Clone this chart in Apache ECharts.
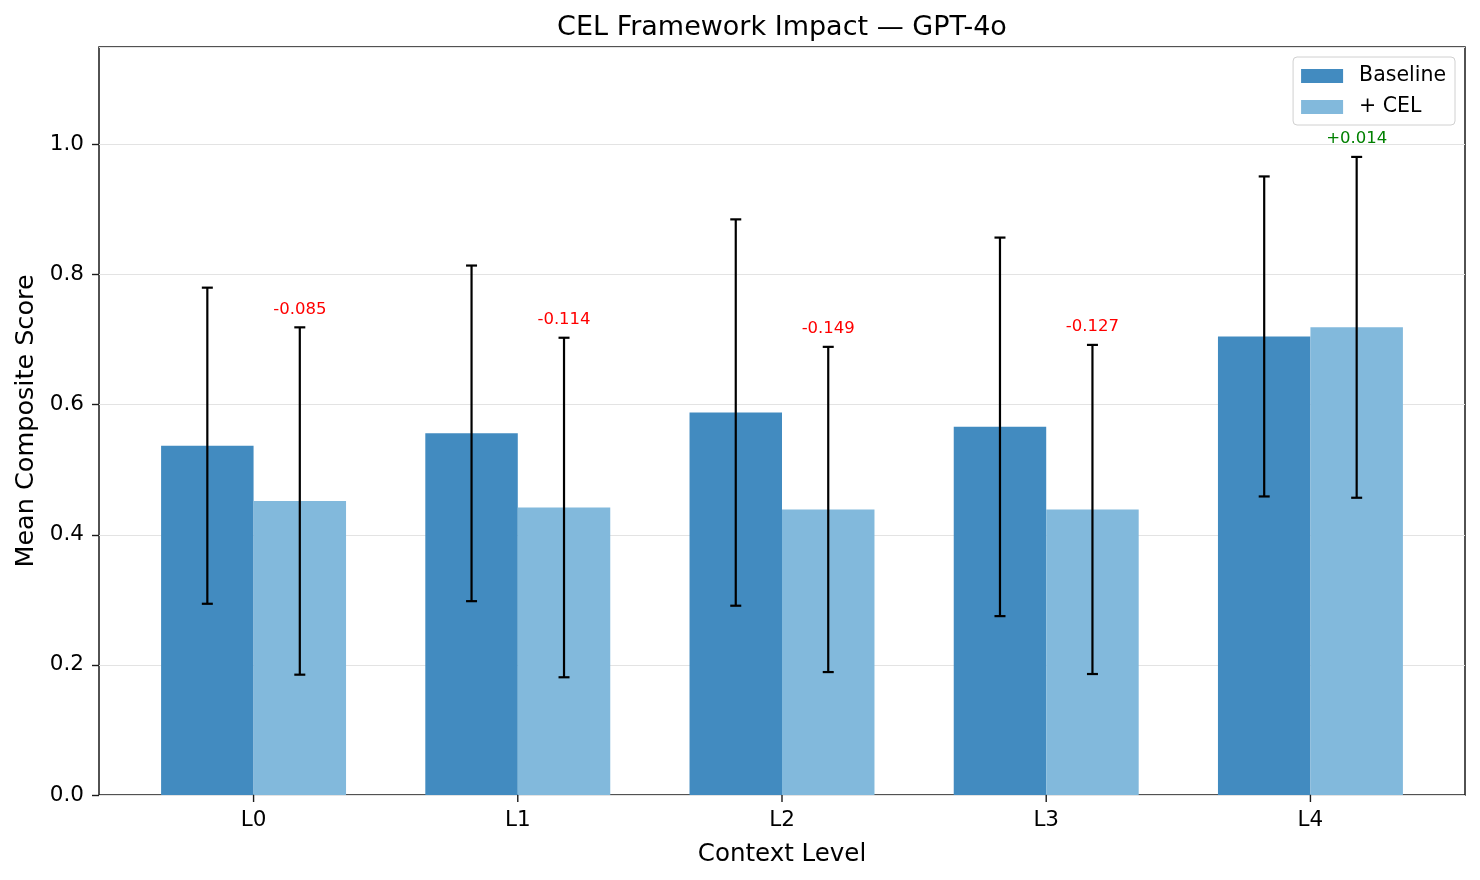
<!DOCTYPE html>
<html>
<head>
<meta charset="UTF-8">
<title>CEL Framework Impact</title>
<script src="https://cdn.jsdelivr.net/npm/echarts@6/dist/echarts.min.js"></script>
<style>
  html, body { margin: 0; padding: 0; background: #fff; }
  #chart { width: 1480px; height: 880px; }
</style>
</head>
<body>
<div id="chart"></div>
<script type="text/javascript">
    // data
    var categories = ['L0', 'L1', 'L2', 'L3', 'L4'];
    var baselineMean = [0.537, 0.556, 0.588, 0.566, 0.705];
    var baselineStd = [0.243, 0.258, 0.297, 0.291, 0.246];
    var celMean = [0.452, 0.442, 0.439, 0.439, 0.719];
    var celStd = [0.267, 0.261, 0.250, 0.253, 0.262];
    var yTicks = [0, 0.2, 0.4, 0.6, 0.8, 1.0];

    var BAR_W = 0.35;
    var baseColor = '#428bc0';
    var celColor = '#82b9dc';
    var font = 'DejaVu Sans';

    var myChart = echarts.init(document.getElementById('chart'));

    // one bar per level, shifted left (baseline) or right (cel)
    function barItem(side) {
        return function (params, api) {
            var x = api.value(0);
            var v = api.value(1);
            var x0 = side < 0 ? x - BAR_W : x;
            var p0 = api.coord([x0, v]);
            var p1 = api.coord([x0 + BAR_W, 0]);
            return {
                type: 'rect',
                shape: { x: p0[0], y: p0[1], width: p1[0] - p0[0], height: p1[1] - p0[1] },
                style: { fill: api.visual('color') }
            };
        };
    }

    function errItem(params, api) {
        var x = api.value(0);
        var lo = api.coord([x, api.value(1)]);
        var hi = api.coord([x, api.value(2)]);
        var cap = 5.5;
        var st = { stroke: '#000', lineWidth: 2.2 };
        return {
            type: 'group',
            children: [
                { type: 'line', shape: { x1: lo[0], y1: lo[1], x2: hi[0], y2: hi[1] }, style: st },
                { type: 'line', shape: { x1: lo[0] - cap, y1: lo[1], x2: lo[0] + cap, y2: lo[1] }, style: st },
                { type: 'line', shape: { x1: hi[0] - cap, y1: hi[1], x2: hi[0] + cap, y2: hi[1] }, style: st }
            ]
        };
    }

    var baseData = [], celData = [], errData = [], diffData = [], catData = [];
    for (var i = 0; i < categories.length; i++) {
        baseData.push([i, baselineMean[i]]);
        celData.push([i, celMean[i]]);
        errData.push([i - BAR_W / 2, baselineMean[i] - baselineStd[i], baselineMean[i] + baselineStd[i]]);
        errData.push([i + BAR_W / 2, celMean[i] - celStd[i], celMean[i] + celStd[i]]);
        var d = celMean[i] - baselineMean[i];
        diffData.push([i + BAR_W / 2, celMean[i] + celStd[i], d]);
        catData.push([i, 0, categories[i]]);
    }

    var option = {
        backgroundColor: '#fff',
        animation: false,
        title: {
            text: 'CEL Framework Impact \u2014 GPT-4o',
            left: 777, top: 9, textAlign: 'center',
            textStyle: { fontFamily: font, fontSize: 27, fontWeight: 'normal', color: '#000' }
        },
        legend: {
            right: 25, top: 57,
            orient: 'vertical',
            data: ['Baseline', '+ CEL'],
            icon: 'rect',
            itemWidth: 42, itemHeight: 14, itemGap: 9,
            padding: [8, 9, 7, 8],
            borderColor: '#d0d0d0', borderWidth: 1, borderRadius: 4,
            backgroundColor: 'rgba(255,255,255,0.8)',
            textStyle: { fontFamily: font, fontSize: 20.5, lineHeight: 22, color: '#000', padding: [0, 0, 0, 11] }
        },
        grid: {
            left: 99, right: 15, top: 47, bottom: 85,
            show: true, borderColor: '#1a1a1a', borderWidth: 1.5, backgroundColor: 'transparent'
        },
        xAxis: {
            type: 'value',
            min: -0.585, max: 4.585,
            name: 'Context Level',
            nameLocation: 'middle', nameGap: 47,
            nameTextStyle: { fontFamily: font, fontSize: 24.5, color: '#000' },
            axisLine: { show: false, onZero: false },
            axisTick: { show: false },
            axisLabel: { show: false },
            splitLine: { show: false }
        },
        yAxis: {
            type: 'value',
            min: 0, max: 1.15, interval: 0.2,
            name: 'Mean Composite Score',
            nameLocation: 'middle', nameGap: 60,
            nameTextStyle: { fontFamily: font, fontSize: 25.5, color: '#000' },
            axisLine: { show: false, onZero: false },
            axisTick: { show: true, length: 7, lineStyle: { color: '#1a1a1a', width: 1.4 } },
            axisLabel: {
                fontFamily: font, fontSize: 21.5, color: '#000', margin: 15,
                showMaxLabel: false,
                formatter: function (v) { return yTicks.indexOf(+v.toFixed(1)) >= 0 ? v.toFixed(1) : ''; }
            },
            splitLine: { show: true, lineStyle: { color: '#e3e3e3', width: 1.2 } }
        },
        series: [
            {
                name: 'Baseline', type: 'custom', data: baseData,
                itemStyle: { color: baseColor }, renderItem: barItem(-1), z: 2
            },
            {
                name: '+ CEL', type: 'custom', data: celData,
                itemStyle: { color: celColor }, renderItem: barItem(1), z: 2
            },
            {
                name: 'err', type: 'custom', data: errData, renderItem: errItem, z: 3
            },
            {
                name: 'diff', type: 'custom', data: diffData, z: 4,
                renderItem: function (params, api) {
                    var p = api.coord([api.value(0), api.value(1)]);
                    var d = api.value(2);
                    return {
                        type: 'text',
                        style: {
                            x: p[0], y: p[1] - 18,
                            text: (d >= 0 ? '+' : '') + d.toFixed(3),
                            fill: d >= 0 ? '#008000' : '#ff0000',
                            fontFamily: font, fontSize: 16.5,
                            align: 'center', verticalAlign: 'middle'
                        }
                    };
                }
            },
            {
                name: 'cats', type: 'custom', data: catData, z: 4,
                renderItem: function (params, api) {
                    var p = api.coord([api.value(0), 0]);
                    return {
                        type: 'group',
                        children: [
                            { type: 'line', shape: { x1: p[0], y1: p[1], x2: p[0], y2: p[1] + 7 },
                              style: { stroke: '#1a1a1a', lineWidth: 1.4 } },
                            { type: 'text', style: {
                                x: p[0], y: p[1] + 25, text: categories[params.dataIndex],
                                fill: '#000', fontFamily: font, fontSize: 21.5,
                                align: 'center', verticalAlign: 'middle' } }
                        ]
                    };
                }
            }
        ]
    };
    myChart.setOption(option);
</script>
</body>
</html>
